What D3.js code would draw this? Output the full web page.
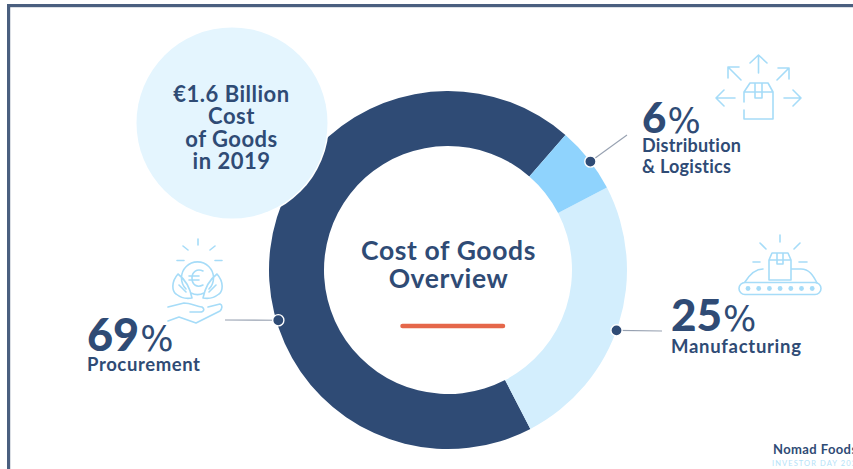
<!DOCTYPE html>
<html>
<head>
<meta charset="utf-8">
<script src="https://cdn.jsdelivr.net/npm/d3@7"></script>
<style>
html,body{margin:0;padding:0;background:#fff;overflow:hidden}
svg{display:block}
text{font-family:"Lato","Noto Sans",sans-serif;fill:#2f4b75;font-weight:700}
.icon{fill:none;stroke:#a6dcf8;stroke-width:1.6;stroke-linecap:round;stroke-linejoin:round}
</style>
</head>
<body>
<svg id="chart" width="853" height="469"></svg>
<script>
// Cost of goods split, in percent
const categories = ["Procurement", "Manufacturing", "Distribution"];
const shares = [69, 25, 6];
const sliceColors = ["#2f4b75", "#d3eefd", "#8fd3fd"];
// Where each leader dot sits on the ring, as degrees clockwise from north
const dotAngles = [253.5, 109.7, 52.7];

const svg = d3.select("#chart");
const cx = 448, cy = 270, outerR = 179, innerR = 124;

// Slide frame: top and left rules
svg.append("rect").attr("x", 7).attr("y", 4).attr("width", 846).attr("height", 3.2).attr("fill", "#4a5f7f");
svg.append("rect").attr("x", 7).attr("y", 4).attr("width", 3.2).attr("height", 465).attr("fill", "#4a5f7f");

// Donut: the small slice begins at 41 degrees and runs clockwise
const start = 41 * Math.PI / 180;
const order = [2, 1, 0];
const pie = d3.pie()
  .value(i => shares[i])
  .sort((a, b) => order.indexOf(a) - order.indexOf(b))
  .startAngle(start)
  .endAngle(start + 2 * Math.PI);
const arc = d3.arc().innerRadius(innerR).outerRadius(outerR);
const ring = svg.append("g").attr("transform", `translate(${cx},${cy})`);
ring.selectAll("path")
  .data(pie(categories.map((_, i) => i)))
  .join("path")
  .attr("d", arc)
  .attr("fill", d => sliceColors[d.data]);

// Summary bubble overlapping the ring, with a thin white halo
svg.append("circle").attr("cx", 232).attr("cy", 123).attr("r", 97).attr("fill", "#fff");
svg.append("circle").attr("cx", 232).attr("cy", 123).attr("r", 95.5).attr("fill", "#e4f5fe");
const bubbleLines = ["€1.6 Billion", "Cost", "of Goods", "in 2019"];
svg.append("g").selectAll("text").data(bubbleLines).join("text")
  .attr("x", 231.5).attr("y", (d, i) => 102 + i * 22.4)
  .attr("text-anchor", "middle").attr("font-size", 22).attr("letter-spacing", 0.5)
  .text(d => d);

// Centre title and accent rule
["Cost of Goods", "Overview"].forEach((t, i) => {
  svg.append("text").attr("x", 448.500).attr("y", 260 + i * 28)
    .attr("text-anchor", "middle").attr("font-size", 26.5).attr("letter-spacing", 0.6).text(t);
});
svg.append("line").attr("x1", 402.500).attr("x2", 503).attr("y1", 326).attr("y2", 326)
  .attr("stroke", "#e5674a").attr("stroke-width", 4.5).attr("stroke-linecap", "round");

// Leader lines and dots
const polar = (deg, r) => {
  const a = deg * Math.PI / 180;
  return [cx + r * Math.sin(a), cy - r * Math.cos(a)];
};
const leaderEnds = [[225, 320], [662, 331], [627, 135]];
dotAngles.forEach((deg, i) => {
  const [x, y] = polar(deg, outerR - (i === 0 ? 2 : 0));
  svg.append("line").attr("x1", x).attr("y1", y)
    .attr("x2", leaderEnds[i][0]).attr("y2", leaderEnds[i][1])
    .attr("stroke", "#97a1b1").attr("stroke-width", 1.1);
  svg.append("circle").attr("cx", x).attr("cy", y).attr("r", 5.6)
    .attr("fill", "#2f4b75").attr("stroke", "#fff").attr("stroke-width", 1.4);
});

// Percentage callouts: big number, wide percent sign, caption
function callout(x, yNum, value, size, pctSize, captions, capSize, spacing, capStep) {
  const t = svg.append("text").attr("x", x).attr("y", yNum);
  t.append("tspan").attr("font-size", size).attr("font-weight", 900).text(value);
  t.append("tspan").attr("font-size", pctSize).attr("dx", 1)
    .style("font-family", "'DejaVu Sans',sans-serif").style("font-weight", 400).text("%");
  captions.forEach((c, i) => {
    svg.append("text").attr("x", x).attr("y", yNum + capStep[0] + i * capStep[1])
      .attr("font-size", capSize).attr("letter-spacing", spacing).text(c);
  });
}
callout(87, 351, shares[0], 45, 35, [categories[0]], 18.5, 0.6, [20, 0]);
callout(671, 331, shares[1], 44, 35, [categories[1]], 18.5, 0.7, [21.5, 0]);
callout(642, 133, shares[2], 42, 35, ["Distribution", "& Logistics"], 18, 0.25, [19, 20.5]);

// Distribution icon: parcel with arrows fanning out
const distIcon = svg.append("g").attr("class", "icon");
distIcon.append("path").attr("d",
  "M744 102V92L750 83H768L773 92V119H744V110M744 92H773M755 83V98H762V83" +
  "M758.5 73V55M750 63L758.5 55L767 63" +
  "M741 80L728 67M728 78V67H739" +
  "M777 80L789 68M778 68H789V79" +
  "M735 98H716M724 90L716 98L724 106" +
  "M784 98H801M793 90L801 98L793 106");

// Conveyor icon: parcel on a belt with sparkle strokes
const beltIcon = svg.append("g").attr("class", "icon");
beltIcon.append("path").attr("d",
  "M769 280V260L772 253H788L791 260V280ZM769 260H791M777 253V264H783V253" +
  "M780 235V242M760 243L766 249M800 243L794 249M753 262H760M799 262H807" +
  "M763 269C755 269 750 274 745 282M791 269H801C809 269 813 275 817 283");
beltIcon.append("rect").attr("x", 739).attr("y", 282.500).attr("width", 82).attr("height", 12).attr("rx", 6);
const rollers = d3.range(7);
beltIcon.selectAll("circle").data(rollers).join("circle")
  .attr("cx", d => 748 + d * 10.7).attr("cy", 288.500).attr("r", 2.4)
  .attr("fill", "#a6dcf8").attr("stroke", "none");

// Procurement icon: euro coin between leaves above an open hand
const handIcon = svg.append("g").attr("class", "icon").attr("stroke-width", 1.2);
handIcon.append("path").attr("d",
  "M186 289A16 16 0 1 1 209 289M191 293C195 295 200 295 204 293" +
  "M203 271C197 268 192 272 192 278C192 285 197 288 203 285M189 276H199M189 280H199" +
  "M198 239V245M183 246L188 250M215 246L210 250M177 260.500H184M215 260.500H222" +
  "M178 274C171 282 172 291 176 294C181 298 187 299 192 298C190 288 186 280 178 274ZM179 285L186 292" +
  "M217 274C224 282 223 291 219 294C214 298 208 299 203 298C205 288 209 280 217 274ZM216 285L209 292" +
  "M168 307L184 303C190 303 196 306 202 307C205 309 204 312 200 312H190" +
  "M208 307L220 304C223 305 222 309 220 311L196 323L179 317L168 321");

// Brand mark, running off the slide edge
svg.append("text").attr("x", 773).attr("y", 454).attr("font-size", 13).attr("letter-spacing", 0.4).text("Nomad Foods");
svg.append("text").attr("x", 772).attr("y", 465.500).attr("font-size", 7.5).attr("letter-spacing", 1.1)
  .style("fill", "#b5e2f8").style("font-weight", 400).text("INVESTOR DAY 2020");
</script>
</body>
</html>
